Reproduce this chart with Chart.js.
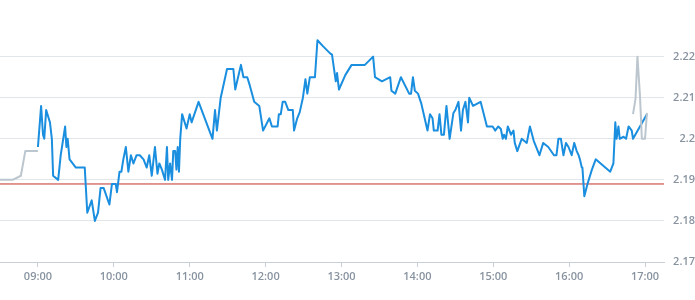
<!DOCTYPE html>
<html>
<head>
<meta charset="utf-8">
<script src="https://cdn.jsdelivr.net/npm/chart.js@4.4.1/dist/chart.umd.min.js"></script>
<style>
  body { margin: 0; background: #fff; }
  #wrap { width: 695px; height: 300px; }
</style>
</head>
<body>
<div id="wrap"><canvas id="priceChart"></canvas></div>
<script>
// pre-market
const preTimes = ['08:30', '08:40', '08:46:30', '08:50', '09:00'];
const prePrices = [2.19, 2.19, 2.191, 2.197, 2.197];

// session
const times = [
    '09:00', '09:02:30', '09:04', '09:05', '09:06:30', '09:09:30', '09:11', '09:12', '09:16', '09:18',
    '09:21:30', '09:22:30', '09:23:30', '09:25', '09:30', '09:37', '09:39', '09:42:30', '09:45', '09:47:30',
    '09:49:30', '09:52', '09:56:30', '09:58:30', '10:01:30', '10:02:30', '10:04:30', '10:06', '10:07:30', '10:09:30',
    '10:11:30', '10:13:30', '10:15:30', '10:18', '10:20:30', '10:23:30', '10:26', '10:28', '10:30', '10:32:30',
    '10:34:30', '10:36', '10:38', '10:40:30', '10:42', '10:43', '10:44:30', '10:46', '10:47', '10:48:30',
    '10:49:30', '10:50:30', '10:51:30', '10:52:30', '10:53', '10:54', '10:57:30', '11:00', '11:01:30', '11:07',
    '11:18', '11:20', '11:21:30', '11:24:30', '11:29:30', '11:34:30', '11:36', '11:40:30', '11:42:30', '11:45:30',
    '11:47:30', '11:51', '11:55', '11:58', '12:03', '12:05', '12:09:30', '12:10:30', '12:12', '12:13:30',
    '12:15:30', '12:18', '12:21:30', '12:22:30', '12:25', '12:27', '12:29:30', '12:31:30', '12:33', '12:35',
    '12:39', '12:41', '12:45:30', '12:51', '12:52:30', '12:55:30', '12:56:30', '12:58', '13:03', '13:08',
    '13:18:30', '13:25', '13:26:30', '13:32', '13:38:30', '13:39:30', '13:42:30', '13:47', '13:53:30', '13:55',
    '13:56:30', '13:58', '14:00:30', '14:03', '14:08', '14:10', '14:12', '14:13', '14:16', '14:17:30',
    '14:19', '14:21', '14:23', '14:25:30', '14:28:30', '14:30', '14:32:30', '14:34:30', '14:36', '14:38',
    '14:40', '14:41', '14:44', '14:50', '14:55', '14:59:30', '15:01:30', '15:04', '15:06', '15:07:30',
    '15:08:30', '15:10', '15:11:30', '15:14', '15:16', '15:17', '15:19', '15:22:30', '15:26:30', '15:29',
    '15:32', '15:36:30', '15:39:30', '15:43:30', '15:48', '15:50', '15:51:30', '15:53:30', '15:55:30', '15:57:30',
    '15:59:30', '16:02', '16:04', '16:06', '16:07:30', '16:08:30', '16:10', '16:10:30', '16:12', '16:14:30',
    '16:18', '16:21', '16:32:30', '16:35', '16:36:30', '16:37:30', '16:39', '16:40', '16:43', '16:45',
    '16:47', '16:49:30', '16:50:30', '16:56', '17:01:30'
];
const prices = [
    2.198, 2.208, 2.201, 2.200, 2.207, 2.204, 2.200, 2.191, 2.190, 2.196,
    2.203, 2.198, 2.200, 2.195, 2.193, 2.193, 2.182, 2.185, 2.180, 2.182,
    2.188, 2.188, 2.184, 2.189, 2.189, 2.187, 2.192, 2.192, 2.195, 2.198,
    2.192, 2.196, 2.194, 2.196, 2.196, 2.195, 2.193, 2.196, 2.191, 2.198,
    2.1915, 2.194, 2.1925, 2.190, 2.198, 2.190, 2.194, 2.190, 2.197, 2.197,
    2.1925, 2.198, 2.192, 2.200, 2.200, 2.206, 2.2025, 2.206, 2.204, 2.209,
    2.200, 2.207, 2.202, 2.210, 2.217, 2.217, 2.212, 2.218, 2.215, 2.215,
    2.213, 2.209, 2.208, 2.202, 2.205, 2.203, 2.203, 2.206, 2.206, 2.209,
    2.209, 2.207, 2.207, 2.202, 2.205, 2.2065, 2.210, 2.2145, 2.211, 2.215,
    2.215, 2.224, 2.2225, 2.2208, 2.2205, 2.214, 2.216, 2.212, 2.2155, 2.218,
    2.218, 2.220, 2.215, 2.214, 2.215, 2.2117, 2.211, 2.215, 2.211, 2.211,
    2.215, 2.2117, 2.211, 2.2087, 2.202, 2.206, 2.205, 2.202, 2.202, 2.206,
    2.201, 2.201, 2.208, 2.200, 2.2063, 2.207, 2.209, 2.202, 2.207, 2.209,
    2.204, 2.210, 2.208, 2.209, 2.203, 2.203, 2.202, 2.203, 2.2024, 2.200,
    2.201, 2.200, 2.203, 2.201, 2.202, 2.199, 2.197, 2.200, 2.199, 2.203,
    2.1995, 2.196, 2.199, 2.198, 2.196, 2.196, 2.200, 2.200, 2.196, 2.199,
    2.198, 2.196, 2.199, 2.197, 2.196, 2.195, 2.193, 2.193, 2.186, 2.189,
    2.1925, 2.195, 2.192, 2.194, 2.204, 2.200, 2.203, 2.200, 2.2005, 2.200,
    2.203, 2.202, 2.200, 2.203, 2.206
];

// after hours
const postTimes = ['16:50:30', '16:52:30', '16:54', '16:56', '16:57:30', '17:00', '17:01:30'];
const postPrices = [2.206, 2.2098, 2.220, 2.2105, 2.200, 2.200, 2.2063];

const prevClose = 2.189;
const xTickLabels = ['09:00', '10:00', '11:00', '12:00', '13:00', '14:00', '15:00', '16:00', '17:00'];
const yTickValues = [2.17, 2.18, 2.19, 2.2, 2.21, 2.22];

function toMin(t) {
    const p = t.split(':').map(Number);
    return p[0] * 60 + p[1] + (p[2] || 0) / 60;
}
function fmt(m) {
    return String(Math.floor(m / 60)).padStart(2, '0') + ':' + String(Math.round(m % 60)).padStart(2, '0');
}
function pts(ts, vs) {
    return ts.map((t, i) => ({x: toMin(t), y: vs[i]}));
}

const tickFont = {family: 'Open Sans', size: 11, weight: '600'};
const tickColor = '#8893a0';

new Chart(document.getElementById('priceChart'), {
    type: 'line',
    data: {
        datasets: [
            {data: pts(postTimes, postPrices), borderColor: '#bcc6ce', borderWidth: 2},
            {data: pts(times, prices), borderColor: '#1a8edf', borderWidth: 2},
            {data: pts(preTimes, prePrices), borderColor: '#bcc6ce', borderWidth: 2},
            {data: [{x: toMin('08:30'), y: prevClose}, {x: toMin('17:15'), y: prevClose}], borderColor: '#c4302b', borderWidth: 1}
        ]
    },
    options: {
        responsive: true,
        maintainAspectRatio: false,
        animation: false,
        layout: {padding: 0},
        elements: {
            point: {radius: 0},
            line: {tension: 0, borderJoinStyle: 'round'}
        },
        plugins: {legend: {display: false}, tooltip: {enabled: false}},
        scales: {
            x: {
                type: 'linear',
                min: toMin('08:30'),
                max: toMin('17:15'),
                afterBuildTicks: axis => { axis.ticks = xTickLabels.map(t => ({value: toMin(t)})); },
                afterFit: axis => { axis.height = 38; },
                grid: {drawOnChartArea: false, tickLength: 5, color: '#c9cfd6'},
                border: {color: '#c9cfd6'},
                ticks: {
                    callback: v => fmt(v),
                    maxRotation: 0,
                    padding: 3,
                    color: tickColor,
                    font: tickFont
                }
            },
            y: {
                position: 'right',
                min: 2.17,
                max: 2.23,
                afterBuildTicks: axis => { axis.ticks = yTickValues.map(v => ({value: v})); },
                afterFit: axis => { axis.width = 31; },
                grid: {color: '#e2e6ea', drawTicks: false},
                border: {display: false},
                ticks: {
                    callback: v => String(+v.toFixed(2)),
                    padding: 9,
                    crossAlign: 'far',
                    color: tickColor,
                    font: tickFont
                }
            }
        }
    }
});
</script>
</body>
</html>
